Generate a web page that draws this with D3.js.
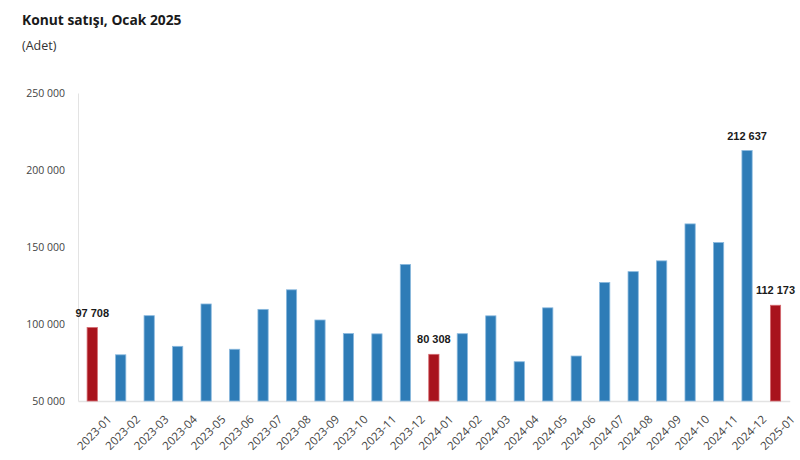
<!DOCTYPE html>
<html>
<head>
<meta charset="utf-8">
<script src="https://cdn.jsdelivr.net/npm/d3@7"></script>
<style>
  body { margin: 0; background: #fff; }
  svg { display: block; }
</style>
</head>
<body>
<svg id="chart" width="800" height="460"></svg>
<script>
const categories = ["2023-01","2023-02","2023-03","2023-04","2023-05","2023-06","2023-07","2023-08","2023-09","2023-10","2023-11","2023-12",
  "2024-01","2024-02","2024-03","2024-04","2024-05","2024-06","2024-07","2024-08","2024-09","2024-10","2024-11","2024-12","2025-01"];
const sales = [97708, 80000, 105400, 85500, 113000, 83600, 109500, 122200, 102600, 93800, 93600, 138700,
  80308, 93700, 105300, 75500, 110500, 79200, 127000, 134000, 141000, 165000, 152900, 212637, 112173];
const labelled = ["2023-01", "2024-01", "2024-12", "2025-01"];
const highlighted = ["2023-01", "2024-01", "2025-01"];
const yTicks = [50000, 100000, 150000, 200000, 250000];
const title = "Konut satışı, Ocak 2025";
const subtitle = "(Adet)";

const svg = d3.select("#chart");
const margin = { left: 78, right: 10, top: 93, bottom: 59 };

const x = d3.scaleBand().domain(categories)
  .range([margin.left, margin.left + 25 * 28.47])
  .paddingInner(0.64).paddingOuter(0.32);
const y = d3.scaleLinear().domain([50000, 250000]).range([401, 93]);

const fmt = v => d3.format(",")(v).replace(/,/g, " ");

svg.append("text").attr("x", 22).attr("y", 25)
  .attr("font-family", "'Open Sans', sans-serif").attr("font-weight", 700)
  .attr("font-size", 13.8).attr("fill", "#1a1a1a").text(title);
svg.append("text").attr("x", 22).attr("y", 50)
  .attr("font-family", "'Open Sans', sans-serif")
  .attr("font-size", 12.5).attr("fill", "#333").text(subtitle);

// y axis
const yAxis = d3.axisLeft(y).tickValues(yTicks).tickSize(0).tickPadding(13).tickFormat(fmt);
const gy = svg.append("g").attr("transform", `translate(${margin.left},0)`).call(yAxis);
gy.select(".domain").attr("stroke", "#e3e3e3");
gy.selectAll("text").attr("font-family", "'Open Sans', sans-serif").attr("font-size", 10.5).attr("fill", "#444");

// x axis
const xAxis = d3.axisBottom(x).tickSize(0).tickPadding(10);
const gx = svg.append("g").attr("transform", `translate(0,401)`).call(xAxis);
gx.select(".domain").attr("stroke", "#e3e3e3").attr("stroke-width", 1.5);
gx.selectAll("text")
  .attr("font-family", "'Open Sans', sans-serif").attr("font-size", 11.5).attr("fill", "#444")
  .attr("text-anchor", "end")
  .attr("transform", "translate(7,6) rotate(-45)")
  .attr("dy", "0.75em");

// bars
svg.append("g").selectAll("rect").data(categories).join("rect")
  .attr("x", d => x(d))
  .attr("width", x.bandwidth())
  .attr("y", (d, i) => y(sales[i]))
  .attr("height", (d, i) => y(50000) - y(sales[i]))
  .attr("fill", d => highlighted.includes(d) ? "#a8131c" : "#2e7cb7")
  .attr("stroke", d => highlighted.includes(d) ? "#d46a70" : "#8ab9de")
  .attr("stroke-width", 0.8);

// value labels
svg.append("g").selectAll("text").data(categories.filter(c => labelled.includes(c))).join("text")
  .attr("x", d => x(d) + x.bandwidth() / 2)
  .attr("y", d => y(sales[categories.indexOf(d)]) - 11)
  .attr("text-anchor", "middle")
  .attr("font-family", "'Liberation Sans', Arial, sans-serif").attr("font-weight", 700)
  .attr("font-size", 11).attr("fill", "#1a1a1a")
  .text(d => fmt(sales[categories.indexOf(d)]));
</script>
</body>
</html>
